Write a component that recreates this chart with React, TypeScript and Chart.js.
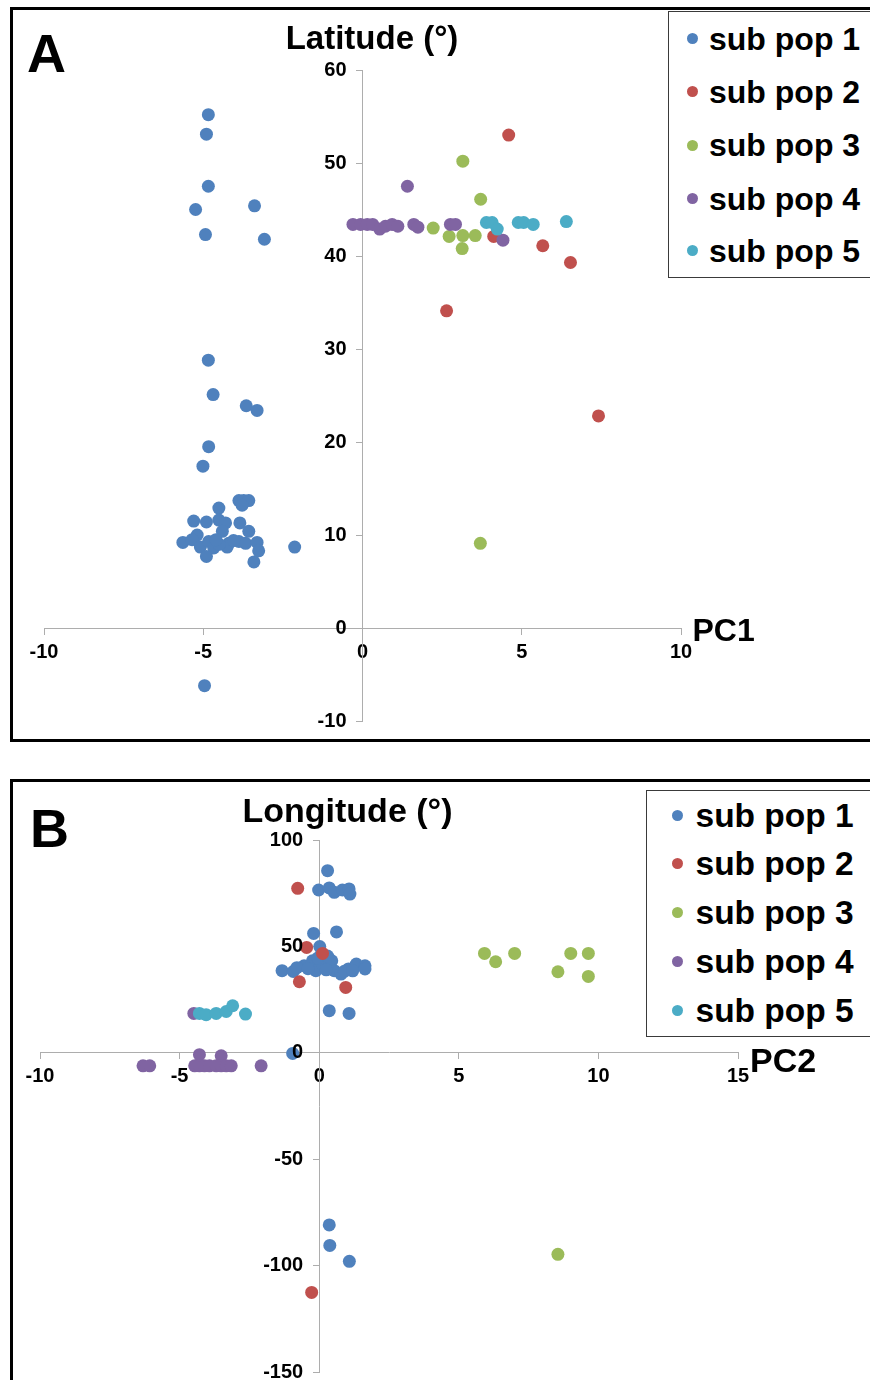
import React, { useEffect, useRef } from "react";
import { Chart, registerables } from "chart.js";

Chart.register(...registerables);

const FONT = "'Liberation Sans', Arial, Helvetica, sans-serif";

const seriesNames = ["sub pop 1", "sub pop 2", "sub pop 3", "sub pop 4", "sub pop 5"];
const seriesColors = ["#4F81BD", "#C0504D", "#9BBB59", "#8064A2", "#4BACC6"];

// Panel A: PC1 (x) vs Latitude (y)
const latPop1: [number, number][] = [
  [-4.84, 55.2], [-4.9, 53.1], [-4.84, 47.5], [-5.24, 45.0], [-3.39, 45.4], [-4.93, 42.3], [-3.08, 41.8],
  [-4.84, 28.8], [-4.69, 25.1], [-3.65, 23.9], [-3.31, 23.4], [-4.83, 19.5], [-5.01, 17.4],
  [-3.88, 13.7], [-3.73, 13.7], [-3.57, 13.7], [-3.78, 13.2], [-4.51, 12.9], [-5.3, 11.5], [-4.9, 11.4],
  [-4.51, 11.6], [-4.3, 11.3], [-3.85, 11.3], [-4.4, 10.4], [-3.57, 10.4], [-5.19, 10.0], [-5.64, 9.2],
  [-5.35, 9.5], [-5.09, 8.7], [-4.83, 9.3], [-4.67, 8.6], [-4.2, 9.1], [-3.88, 9.3], [-3.67, 9.1],
  [-3.31, 9.2], [-3.26, 8.3], [-4.9, 7.7], [-4.25, 8.7], [-3.41, 7.1], [-2.13, 8.7], [-4.5, 9.0],
  [-4.05, 9.4], [-4.6, 9.5], [-4.96, -6.2],
];
const latPop2: [number, number][] = [
  [4.59, 53.0], [2.64, 34.1], [4.12, 42.1], [5.66, 41.1], [6.53, 39.3], [7.41, 22.8],
];
const latPop3: [number, number][] = [
  [3.15, 50.2], [3.71, 46.1], [2.22, 43.0], [2.72, 42.1], [3.15, 42.2], [3.54, 42.2], [3.13, 40.8], [3.7, 9.1],
];
const latPop4: [number, number][] = [
  [1.41, 47.5], [-0.3, 43.4], [-0.06, 43.4], [0.15, 43.4], [0.32, 43.4], [0.54, 42.9], [0.72, 43.2],
  [0.93, 43.4], [1.11, 43.2], [1.61, 43.4], [1.74, 43.1], [2.76, 43.4], [2.92, 43.4], [4.41, 41.7],
];
const latPop5: [number, number][] = [
  [3.89, 43.6], [4.07, 43.6], [4.23, 42.9], [4.89, 43.6], [5.06, 43.6], [5.36, 43.4], [6.4, 43.7],
];

// Panel B: PC2 (x) vs Longitude (y)
const lonPop1: [number, number][] = [
  [0.3, 85.6], [-0.02, 76.5], [0.36, 77.5], [0.54, 75.4], [0.83, 76.5], [1.07, 77.0], [1.1, 74.6],
  [-0.2, 56.1], [0.62, 56.8], [0.02, 49.9],
  [-1.33, 38.6], [-0.93, 38.2], [-0.54, 40.9], [-0.24, 43.2], [-0.12, 38.6], [0.12, 41.7], [0.45, 43.2],
  [0.54, 38.6], [0.78, 37.0], [1.05, 39.4], [1.33, 41.7], [1.64, 40.9], [1.64, 39.4], [-0.8, 40.0],
  [-0.4, 39.5], [0.25, 39.0], [0.9, 38.3], [1.2, 38.5], [-0.05, 44.5], [0.3, 45.5],
  [0.36, 19.8], [1.07, 18.5], [-0.95, -0.3],
  [0.36, -80.9], [0.38, -90.5], [1.08, -98.0],
];
const lonPop2: [number, number][] = [
  [-0.77, 77.3], [-0.45, 49.5], [0.12, 46.7], [-0.71, 33.4], [0.95, 30.7], [-0.27, -112.6],
];
const lonPop3: [number, number][] = [
  [5.92, 46.7], [6.32, 42.8], [7.0, 46.7], [8.55, 38.1], [9.01, 46.7], [9.64, 46.7], [9.64, 35.9], [8.55, -94.7],
];
const lonPop4: [number, number][] = [
  [-4.49, 18.5], [-4.29, -0.9], [-3.51, -1.4], [-6.31, -6.1], [-6.07, -6.1], [-4.46, -6.1], [-4.29, -6.1],
  [-4.11, -6.1], [-3.93, -6.1], [-3.69, -6.1], [-3.51, -6.1], [-3.33, -6.1], [-3.15, -6.1], [-2.08, -6.1],
];
const lonPop5: [number, number][] = [
  [-4.29, 18.5], [-4.05, 17.9], [-3.69, 18.5], [-3.33, 19.4], [-3.1, 22.1], [-2.64, 18.2],
];

const axisA = { xMin: -10, xMax: 10, xStep: 5, yMin: -10, yMax: 60, yStep: 10 };
const axisB = { xMin: -10, xMax: 15, xStep: 5, yMin: -150, yMax: 100, yStep: 50 };

const AXIS_COLOR = "#ADADAD";
const TICK_FONT_SIZE = 20;

function zeroPad(scale: any) {
  scale.paddingTop = 0;
  scale.paddingBottom = 0;
  scale.paddingLeft = 0;
  scale.paddingRight = 0;
}

// Draws the y tick labels to the left of the zero-crossing y axis (after the points,
// so they sit on top like in the original figure).
const yTickLabelPlugin = {
  id: "yTickLabels",
  afterDatasetsDraw(chart: any) {
    const ys = chart.scales.y;
    const xs = chart.scales.x;
    const ctx = chart.ctx;
    const axisX = xs.getPixelForValue(0);
    ctx.save();
    ctx.font = `bold ${TICK_FONT_SIZE}px ${FONT}`;
    ctx.fillStyle = "#000";
    ctx.textAlign = "right";
    ctx.textBaseline = "middle";
    for (const t of ys.ticks) {
      ctx.fillText(String(t.label ?? t.value), axisX - 16, ys.getPixelForValue(t.value));
    }
    ctx.restore();
  },
};

function buildConfig(series: [number, number][][], ax: typeof axisA, pad: any): any {
  const tickFont = { family: FONT, size: TICK_FONT_SIZE, weight: "bold" as const };
  return {
    type: "scatter",
    data: {
      datasets: series.map((pts, i) => ({
        label: seriesNames[i],
        data: pts.map(([x, y]) => ({ x, y })),
        backgroundColor: seriesColors[i],
        borderColor: seriesColors[i],
        borderWidth: 0,
        pointRadius: 6.5,
        pointHoverRadius: 6.5,
        order: series.length - i,
        clip: false,
      })),
    },
    plugins: [yTickLabelPlugin],
    options: {
      animation: false,
      responsive: false,
      maintainAspectRatio: false,
      events: [],
      layout: { padding: pad },
      plugins: { legend: { display: false }, tooltip: { enabled: false }, title: { display: false } },
      scales: {
        x: {
          type: "linear",
          position: { y: 0 },
          min: ax.xMin,
          max: ax.xMax,
          ticks: { stepSize: ax.xStep, font: tickFont, color: "#000", padding: 6, maxRotation: 0, autoSkip: false },
          grid: { drawOnChartArea: false, drawTicks: true, tickLength: 6, color: AXIS_COLOR, lineWidth: 1 },
          border: { display: true, color: AXIS_COLOR, width: 1 },
          afterFit: zeroPad,
        },
        y: {
          type: "linear",
          position: { x: 0 },
          min: ax.yMin,
          max: ax.yMax,
          ticks: { stepSize: ax.yStep, font: tickFont, color: "#000", display: false, autoSkip: false },
          grid: { drawOnChartArea: false, drawTicks: true, tickLength: 6, color: AXIS_COLOR, lineWidth: 1 },
          border: { display: true, color: AXIS_COLOR, width: 1 },
          afterFit: zeroPad,
        },
      },
    },
  };
}

const txt = (extra: React.CSSProperties): React.CSSProperties => ({
  position: "absolute",
  fontFamily: FONT,
  fontWeight: "bold",
  lineHeight: 1,
  whiteSpace: "nowrap",
  color: "#000",
  ...extra,
});

function Legend({ left, top, height, rows, dotX, textX, fontSize, dot }: any) {
  return (
    <>
      <div
        style={{
          position: "absolute",
          left,
          top,
          width: 900 - left,
          height,
          border: "1px solid #3A3A3A",
          boxSizing: "border-box",
          background: "#fff",
        }}
      />
      {seriesNames.map((name, i) => (
        <React.Fragment key={name}>
          <div
            style={{
              position: "absolute",
              left: dotX - dot / 2,
              top: rows[i] - dot / 2,
              width: dot,
              height: dot,
              borderRadius: "50%",
              background: seriesColors[i],
            }}
          />
          <div style={txt({ left: textX, top: rows[i] - 0.488 * fontSize, fontSize })}>{name}</div>
        </React.Fragment>
      ))}
    </>
  );
}

export default function App() {
  const refA = useRef<HTMLCanvasElement>(null);
  const refB = useRef<HTMLCanvasElement>(null);

  useEffect(() => {
    const chartA = new Chart(
      refA.current as HTMLCanvasElement,
      buildConfig([latPop1, latPop2, latPop3, latPop4, latPop5], axisA, { left: 44, top: 70, right: 189, bottom: 39 })
    );
    const chartB = new Chart(
      refB.current as HTMLCanvasElement,
      buildConfig([lonPop1, lonPop2, lonPop3, lonPop4, lonPop5], axisB, { left: 40, top: 80, right: 132, bottom: 8 })
    );
    return () => {
      chartA.destroy();
      chartB.destroy();
    };
  }, []);

  return (
    <div
      style={{
        position: "absolute",
        left: 0,
        top: 0,
        width: 870,
        height: 1380,
        overflow: "hidden",
        background: "#fff",
      }}
    >
      {/* Panel frames */}
      <div style={{ position: "absolute", left: 10, top: 7, width: 900, height: 735, border: "3px solid #000", boxSizing: "border-box" }} />
      <div style={{ position: "absolute", left: 10, top: 779, width: 900, height: 700, border: "3px solid #000", boxSizing: "border-box" }} />

      <canvas ref={refA} width={870} height={760} style={{ position: "absolute", left: 0, top: 0, width: 870, height: 760 }} />
      <canvas ref={refB} width={870} height={620} style={{ position: "absolute", left: 0, top: 760, width: 870, height: 620 }} />

      {/* Panel A texts */}
      <div style={txt({ left: 27, top: 26.4, fontSize: 54 })}>A</div>
      <div style={txt({ left: 172, width: 400, textAlign: "center", top: 21.4, fontSize: 33 })}>Latitude (°)</div>
      <div style={txt({ left: 692.5, top: 614.4, fontSize: 32 })}>PC1</div>
      <Legend left={668} top={11} height={267} rows={[38.3, 91.7, 145, 198.3, 250.5]} dotX={692.7} textX={709} fontSize={32} dot={11} />

      {/* Panel B texts */}
      <div style={txt({ left: 30, top: 801, fontSize: 54 })}>B</div>
      <div style={txt({ left: 147.5, width: 400, textAlign: "center", top: 793, fontSize: 34 })}>Longitude (°)</div>
      <div style={txt({ left: 750, top: 1043.4, fontSize: 34 })}>PC2</div>
      <Legend left={646} top={790} height={247} rows={[815, 863.5, 912.7, 961.7, 1010.5]} dotX={677.7} textX={695.5} fontSize={33.5} dot={11} />
    </div>
  );
}
